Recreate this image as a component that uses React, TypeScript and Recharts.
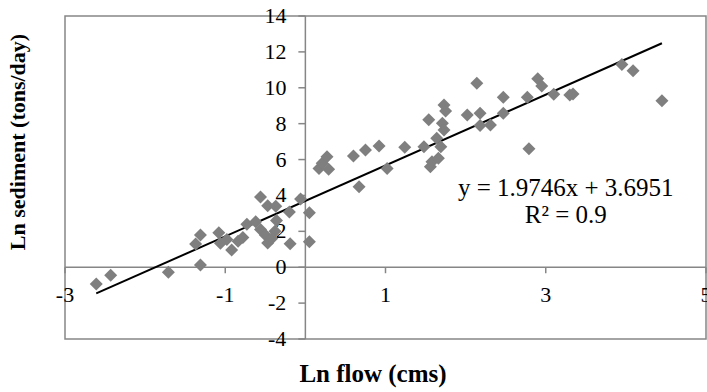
import React from "react";
import { ScatterChart, Scatter, XAxis, YAxis, ReferenceLine, ReferenceDot, ReferenceArea } from "recharts";

const lnFlow = [
  -2.61, -2.43, -1.71, -1.37, -1.31, -1.31, -1.08, -1.06, -0.98, -0.92,
  -0.84, -0.78, -0.73, -0.62, -0.56, -0.47, -0.37, -0.56, -0.5, -0.47,
  -0.42, -0.38, -0.36, -0.2, -0.19, -0.06, 0.05, 0.05, 0.67,
  0.17, 0.21, 0.27, 0.29, 0.6, 0.75, 0.92, 1.02, 1.24, 1.48,
  1.56, 1.54, 1.58, 1.66, 1.64, 1.69, 1.71, 1.73, 1.73, 1.75,
  2.02, 2.14, 2.18, 2.18, 2.31, 2.47, 2.47, 2.77, 2.79, 2.9,
  2.95, 3.1, 3.3, 3.34, 3.95, 4.09, 4.45,
];
const lnSediment = [
  -0.94, -0.45, -0.28, 1.29, 1.79, 0.12, 1.92, 1.33, 1.55, 0.96,
  1.45, 1.65, 2.4, 2.54, 3.92, 3.43, 3.4, 2.1, 1.8, 1.35,
  1.6, 2.0, 2.6, 3.08, 1.31, 3.8, 3.04, 1.42, 4.49,
  5.5, 5.8, 6.16, 5.46, 6.2, 6.53, 6.76, 5.5, 6.68, 6.72,
  5.6, 8.22, 5.88, 6.07, 7.19, 6.72, 8.02, 7.65, 9.04, 8.7,
  8.48, 10.25, 8.58, 7.9, 7.93, 9.47, 8.58, 9.47, 6.6, 10.5,
  10.1, 9.64, 9.6, 9.66, 11.3, 10.95, 9.28,
];
const xTicks = [-3, -1, 1, 3, 5];
const yTicks = [-4, -2, 0, 2, 4, 6, 8, 10, 12, 14];
const slope = 1.9746;
const intercept = 3.6951;
const equationText = "y = 1.9746x + 3.6951";
const r2Text = "R² = 0.9";
const xTitle = "Ln flow (cms)";
const yTitle = "Ln sediment (tons/day)";

const points = lnFlow.map((x, i) => ({ x, y: lnSediment[i] }));
const xMin = Math.min(...lnFlow);
const xMax = Math.max(...lnFlow);
const trend = [
  { x: xMin, y: slope * xMin + intercept },
  { x: xMax, y: slope * xMax + intercept },
];

const FONT = "'Liberation Serif', 'Times New Roman', serif";
const GRAY = "#868686";

const Diamond = (props: any) => {
  const { cx, cy } = props;
  const s = 6.5;
  return (
    <polygon
      points={`${cx},${cy - s} ${cx + s},${cy} ${cx},${cy + s} ${cx - s},${cy}`}
      fill="#7f7f7f"
    />
  );
};

export default function App() {
  return (
    <div style={{ position: "absolute", left: 0, top: 0, width: 707, height: 392, background: "#fff", fontFamily: FONT }}>
      <ScatterChart width={707} height={392} margin={{ top: 16, right: 1, bottom: 53, left: 65 }}>
        <XAxis type="number" dataKey="x" domain={[-3, 5]} allowDataOverflow hide />
        <YAxis type="number" dataKey="y" domain={[-4, 14]} allowDataOverflow hide />
        <ReferenceArea x1={-3} x2={5} y1={-4} y2={14} fill="none" stroke={GRAY} strokeWidth={1.5} ifOverflow="visible" />
        <ReferenceLine x={0} stroke={GRAY} strokeWidth={1.5} />
        <ReferenceLine y={0} stroke={GRAY} strokeWidth={1.5} />
        {yTicks.map((v) => (
          <ReferenceDot
            key={"y" + v}
            x={0}
            y={v}
            r={0}
            ifOverflow="visible"
            shape={(p: any) => (
              <g>
                <line x1={p.cx - 7} y1={p.cy} x2={p.cx} y2={p.cy} stroke={GRAY} strokeWidth={1.5} />
                <text x={p.cx - 19} y={p.cy + 7} textAnchor="end" fontFamily={FONT} fontSize={22} fill="#000">
                  {v}
                </text>
              </g>
            )}
          />
        ))}
        {xTicks.map((v) => (
          <ReferenceDot
            key={"x" + v}
            x={v}
            y={0}
            r={0}
            ifOverflow="visible"
            shape={(p: any) => (
              <g>
                <line x1={p.cx} y1={p.cy} x2={p.cx} y2={p.cy + 6} stroke={GRAY} strokeWidth={1.5} />
                <text x={p.cx} y={p.cy + 35} textAnchor="middle" fontFamily={FONT} fontSize={22} fill="#000">
                  {v}
                </text>
              </g>
            )}
          />
        ))}
        <Scatter data={points} shape={Diamond} isAnimationActive={false} />
        <ReferenceLine segment={trend} stroke="#000" strokeWidth={2} ifOverflow="visible" />
        <ReferenceDot
          x={3.25}
          y={4.4}
          r={0}
          ifOverflow="visible"
          shape={(p: any) => (
            <g>
              <text x={p.cx} y={p.cy + 8} textAnchor="middle" fontFamily={FONT} fontSize={25} fill="#000">
                {equationText}
              </text>
              <text x={p.cx} y={p.cy + 35} textAnchor="middle" fontFamily={FONT} fontSize={25} fill="#000">
                {r2Text}
              </text>
            </g>
          )}
        />
      </ScatterChart>
      <div
        style={{
          position: "absolute",
          left: 0,
          width: 707 + 65 - 1,
          top: 360,
          textAlign: "center",
          fontWeight: "bold",
          fontSize: 25,
          lineHeight: "28px",
          paddingLeft: 0,
        }}
      >
        <span style={{ position: "absolute", left: 373, transform: "translateX(-50%)", whiteSpace: "nowrap" }}>{xTitle}</span>
      </div>
      <div
        style={{
          position: "absolute",
          left: 18,
          top: 142,
          transform: "translate(-50%, -50%) rotate(-90deg)",
          whiteSpace: "nowrap",
          fontWeight: "bold",
          fontSize: 22,
          lineHeight: "26px",
        }}
      >
        {yTitle}
      </div>
    </div>
  );
}
